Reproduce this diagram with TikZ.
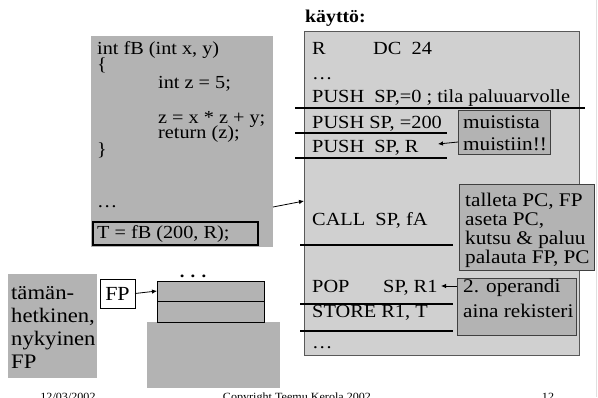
\documentclass[tikz,border=0pt]{standalone}
\usepackage{fontspec}
\setmainfont{Liberation Serif}[FakeStretch=1.1]
\usetikzlibrary{arrows.meta}
\definecolor{lgray}{RGB}{208,208,208}
\definecolor{dgray}{RGB}{179,179,179}
\begin{document}
\begin{tikzpicture}[x=1pt,y=-1pt,
  txt/.style={anchor=base west,inner sep=0pt,font=\fontsize{18.5}{18.5}\selectfont},
  codetxt/.style={anchor=base west,inner sep=0pt,font=\fontsize{18.4}{18.4}\selectfont},
  notetxt/.style={anchor=base west,inner sep=0pt,font=\fontsize{19.3}{19.3}\selectfont},
  bigtxt/.style={anchor=base west,inner sep=0pt,font=\fontsize{20.6}{20.6}\selectfont},
  foot/.style={anchor=base,inner sep=0pt,font=\fontsize{11}{11}\selectfont},
  boxn/.style={anchor=north west,inner sep=0pt,outer sep=0pt},
  sepline/.style={line width=2.6pt},
  arr/.style={-{Latex[length=5pt,width=4.5pt]},line width=0.8pt},
  note/.style={boxn,fill=dgray,draw=black!75,line width=0.8pt}]
\useasboundingbox (0,0) rectangle (598,397);
\fill[white] (0,0) rectangle (598,397);
\draw[black!12,line width=1pt] (596.5,0) -- (596.5,397);

% left code box
\node[boxn,fill=dgray,minimum width=182,minimum height=211] (code) at (91,36) {};
\node[codetxt] (c1) at (97,54) {int fB (int x, y)};
\node[codetxt] (c2) at (97,70) {\{};
\node[codetxt] (c3) at (158,88) {int z = 5;};
\node[codetxt] (c4) at (158,123) {z = x * z + y;};
\node[codetxt] (c5) at (158,138) {return (z);};
\node[codetxt] (c6) at (97,155) {\}};
\node[codetxt] (c7) at (97,207) {…};
\node[boxn,draw=black,line width=1.6pt,minimum width=165,minimum height=23] (tbox) at (93,222) {};
\node[codetxt] (c8) at (97,238) {T = fB (200, R);};

% right panel
\node[anchor=base west,inner sep=0pt,font=\fontsize{18}{18}\selectfont\bfseries] (kay) at (305,22) {käyttö:};
\node[boxn,fill=lgray,draw=black!65,line width=0.8pt,minimum width=275,minimum height=324] (panel) at (304,31) {};
\node[txt] (r1) at (312,54) {R};
\node[txt] (r1b) at (373,54) {DC~~24};
\node[txt] (r2) at (312,79) {…};
\node[txt] (r3) at (312,102) {PUSH~~SP,=0 ; tila paluuarvolle};
\node[txt] (r4) at (312,128) {PUSH SP, =200};
\node[txt] (r5) at (312,152) {PUSH~~SP, R};
\node[txt] (r6) at (312,225) {CALL~~SP, fA};
\node[txt] (r7) at (312,292) {POP};
\node[txt] (r7b) at (383,292) {SP, R1};
\node[txt] (r8) at (312,317) {STORE R1, T};
\node[txt] (r9) at (312,348) {…};

\draw[sepline] (295,108) -- (585,108);
\draw[sepline] (295,133) -- (447,133);
\draw[sepline] (295,158) -- (447,158);
\draw[sepline] (300,245) -- (453,245);
\draw[sepline] (300,304) -- (453,304);
\draw[sepline] (300,331) -- (453,331);

% notes
\node[note,minimum width=92,minimum height=44] (mui) at (458,110) {};
\node[notetxt] at (463,128) {muistista};
\node[notetxt] at (463,150) {muistiin!!};

\node[note,minimum width=135,minimum height=86] (tal) at (459,184) {};
\node[notetxt] at (465,206) {talleta PC, FP};
\node[notetxt] at (465,225) {aseta PC,};
\node[notetxt] at (465,244) {kutsu \& paluu};
\node[notetxt] at (465,263) {palauta FP, PC};

\node[note,minimum width=119,minimum height=57] (ope) at (457,278) {};
\node[notetxt] at (463,292) {2. operandi};
\node[notetxt] at (463,317) {aina rekisteri};

\coordinate (mtip) at (438,144);
\coordinate (otip) at (441,286);
\draw[arr] (mui.west |- 0,142) -- (mtip);
\draw[arr] (ope.west |- 0,286) -- (otip);

% arrow from code to panel
\draw[arr] (code.east |- 0,207) -- (panel.west |- 0,201);

% bottom left
\node[boxn,fill=dgray,minimum width=89,minimum height=104] (cur) at (8,274) {};
\node[bigtxt] at (11,299) {tämän-};
\node[bigtxt] at (11,322) {hetkinen,};
\node[bigtxt] at (11,345) {nykyinen};
\node[bigtxt] at (11,368) {FP};

\node[boxn,fill=white,draw=black,line width=0.8pt,minimum width=35,minimum height=29] (fp) at (100,279) {};
\node[anchor=center,inner sep=0pt,font=\fontsize{20}{20}\selectfont] at (fp.center) {FP};

\node[boxn,fill=dgray,minimum width=133,minimum height=66] (base) at (147,322) {};
\node[boxn,fill=dgray,draw=black,line width=0.8pt,minimum width=107,minimum height=20] (s1) at (157,281) {};
\node[boxn,fill=dgray,draw=black,line width=0.8pt,minimum width=107,minimum height=21] (s2) at (157,301) {};
\node[anchor=base,inner sep=0pt,font=\fontsize{17}{17}\selectfont\bfseries] (dots) at (193,277) {. . .};
\draw[arr] (fp.east) -- (s1.west);

% footer
\node[foot] at (68,400.5) {12/03/2002};
\node[foot] at (297,400.5) {Copyright Teemu Kerola 2002};
\node[foot] at (548,400.5) {12};
\end{tikzpicture}
\end{document}
